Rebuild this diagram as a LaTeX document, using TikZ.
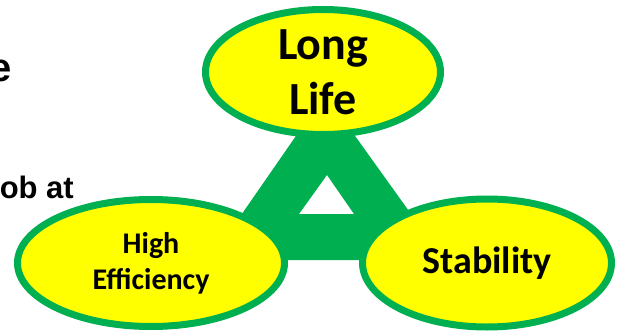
\documentclass[tikz,border=0pt]{standalone}
\usepackage{fontspec}
\usepackage{tikz}
\usetikzlibrary{shapes.geometric}
\newfontfamily\calibrifont{Carlito}
\newfontfamily\arialfont{Liberation Sans}
\definecolor{leafgreen}{HTML}{00B050}
\definecolor{sunyellow}{HTML}{FFFF00}
\tikzset{
  goal/.style={ellipse, draw=leafgreen, fill=sunyellow, line width=7pt,
    inner sep=0pt, align=center, font=\calibrifont\bfseries},
  cuttext/.style={inner sep=0pt, font=\arialfont\bfseries}
}

\begin{document}
\begin{tikzpicture}[x=1pt, y=-1pt]
    \useasboundingbox (0,0) rectangle (623,331);

    % Cut-off slide text at the left
    \node[cuttext, anchor=base east, font=\arialfont\bfseries\fontsize{40}{48}\selectfont] (textE) at (12, 82) {e};
    \node[cuttext, anchor=base east, font=\arialfont\bfseries\fontsize{31}{37}\selectfont] (textOb) at (74, 198) {ob at};

    % Green triangle with a hole
    \fill[leafgreen, even odd rule] (325,94) -- (210,260) -- (444,260) -- cycle
        (327,175) -- (299,214) -- (354,214) -- cycle;

    % The three goals
    \node[goal, minimum width=235pt, minimum height=125pt,
        font=\calibrifont\bfseries\fontsize{46}{55}\selectfont] (longlife) at (323, 72) {Long\\Life};
    \node[goal, minimum width=267pt, minimum height=127pt,
        font=\calibrifont\bfseries\fontsize{30}{36}\selectfont] (efficiency) at (151, 263) {High\\Efficiency};
    \node[goal, minimum width=249pt, minimum height=128pt,
        font=\calibrifont\bfseries\fontsize{38}{45}\selectfont] (stability) at (487, 263) {Stability};
\end{tikzpicture}
\end{document}
